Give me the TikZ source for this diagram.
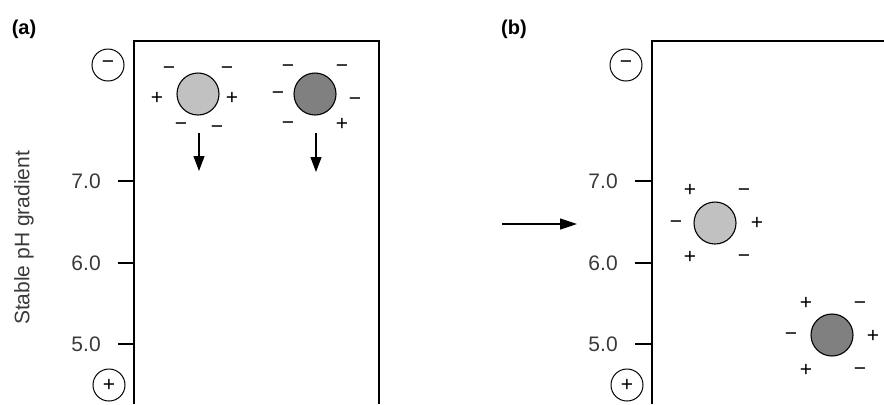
\documentclass[tikz,border=0pt]{standalone}
\usepackage{fontspec}
\setmainfont{Liberation Sans}
\usetikzlibrary{arrows.meta,positioning}

\definecolor{ionlight}{HTML}{C1C1C1}
\definecolor{iondark}{HTML}{808080}
\definecolor{labelgray}{HTML}{3A3A3A}

\begin{document}
\begin{tikzpicture}[x=0.5pt,y=-0.5pt,
    wall/.style={line width=0.65pt},
    ion/.style={circle,draw,line width=0.55pt,minimum size=21pt,inner sep=0pt},
    electrode/.style={circle,draw,line width=0.5pt,minimum size=16pt,inner sep=0pt,font=\fontsize{10.5}{11}\selectfont},
    charge/.style={inner sep=0pt,text height=0.55em,text depth=0pt,font=\fontsize{10.5}{12}\selectfont},
    phlabel/.style={anchor=east,text=labelgray,font=\fontsize{10.5}{12}\selectfont},
    move/.style={line width=0.6pt,-{Triangle[length=7.5pt,width=5.5pt]}}]
  \useasboundingbox (0,0) rectangle (884,404); % 画像の大きさ

  % パネル (a)
  \node[font=\bfseries\fontsize{10}{11}\selectfont] (tagA) at (24,29) {(a)};
  \draw[wall] (134,404) -- (134,41) -- (379,41) -- (379,404); % ゲルの枠
  \foreach \y/\v in {181/7.0,263/6.0,344/5.0}
    \draw[wall] (118,\y) -- (134,\y) node[phlabel,pos=0,xshift=-5pt] {\v}; % pH の目盛り
  \node[electrode] (cathA) at (108,65) {−};
  \node[electrode] (anodeA) at (109,385) {+};
  \node[rotate=90,text=labelgray,font=\fontsize{10.5}{12}\selectfont] (axis) at (24,238) {Stable pH gradient};

  % 薄いタンパク質と周りの電荷
  \node[ion,fill=ionlight] (lightA) at (198,94) {};
  \node[charge] at ([shift={(-29,-25)}]lightA.center) {−};
  \node[charge] at ([shift={(29,-25)}]lightA.center) {−};
  \node[charge] at ([shift={(-41,5)}]lightA.center) {+};
  \node[charge] at ([shift={(34,5)}]lightA.center) {+};
  \node[charge] at ([shift={(-17,31)}]lightA.center) {−};
  \node[charge] at ([shift={(19,34)}]lightA.center) {−};

  % 濃いタンパク質と周りの電荷
  \node[ion,fill=iondark] (darkA) at (315,94) {};
  \node[charge] at ([shift={(-27,-27)}]darkA.center) {−};
  \node[charge] at ([shift={(27,-27)}]darkA.center) {−};
  \node[charge] at ([shift={(-37,0)}]darkA.center) {−};
  \node[charge] at ([shift={(40,6)}]darkA.center) {−};
  \node[charge] at ([shift={(-27,30)}]darkA.center) {−};
  \node[charge] at ([shift={(27,31)}]darkA.center) {+};

  % 移動の向き
  \coordinate (lightTop) at (199,133);
  \coordinate (lightEnd) at (199,171);
  \coordinate (darkTop) at (316,133);
  \coordinate (darkEnd) at (316,172);
  \draw[move] (lightTop) -- (lightEnd);
  \draw[move] (darkTop) -- (darkEnd);

  % (a) から (b) への矢印
  \coordinate (stepFrom) at (502,224);
  \coordinate (stepTo) at (577,224);
  \draw[move,-{Triangle[length=8.5pt,width=5.5pt]}] (stepFrom) -- (stepTo);

  % パネル (b)
  \node[font=\bfseries\fontsize{10}{11}\selectfont] (tagB) at (514,29) {(b)};
  \draw[wall] (652,404) -- (652,41) -- (884,41); % 右側は画像の外へ続く
  \foreach \y/\v in {181/7.0,263/6.0,344/5.0}
    \draw[wall] (635,\y) -- (652,\y) node[phlabel,pos=0,xshift=-5pt] {\v};
  \node[electrode] (cathB) at (626,65) {−};
  \node[electrode] (anodeB) at (627,385) {+};

  % 等電点で止まった薄いタンパク質
  \node[ion,fill=ionlight] (lightB) at (715,223) {};
  \node[charge] at ([shift={(-25,-32)}]lightB.center) {+};
  \node[charge] at ([shift={(29,-32)}]lightB.center) {−};
  \node[charge] at ([shift={(-39,0)}]lightB.center) {−};
  \node[charge] at ([shift={(42,1)}]lightB.center) {+};
  \node[charge] at ([shift={(-25,35)}]lightB.center) {+};
  \node[charge] at ([shift={(29,34)}]lightB.center) {−};

  % 等電点で止まった濃いタンパク質
  \node[ion,fill=iondark] (darkB) at (832,335) {};
  \node[charge] at ([shift={(-26,-31)}]darkB.center) {+};
  \node[charge] at ([shift={(28,-31)}]darkB.center) {−};
  \node[charge] at ([shift={(-41,0)}]darkB.center) {−};
  \node[charge] at ([shift={(41,2)}]darkB.center) {+};
  \node[charge] at ([shift={(-26,36)}]darkB.center) {+};
  \node[charge] at ([shift={(28,35)}]darkB.center) {−};
\end{tikzpicture}
\end{document}
